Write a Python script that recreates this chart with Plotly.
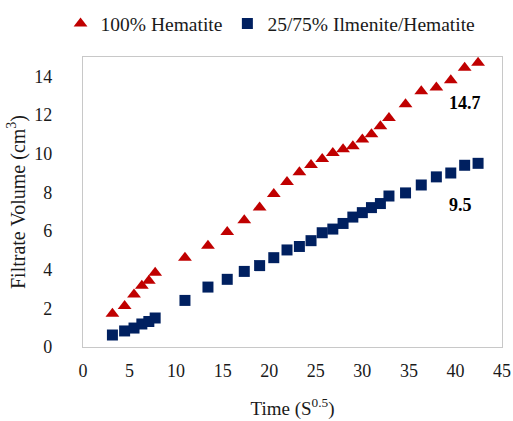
import plotly.graph_objects as go

# Time (s^0.5) values
time_sqrt = [3.16, 4.47, 5.48, 6.32, 7.07, 7.75, 10.95, 13.42, 15.49, 17.32,
             18.97, 20.49, 21.91, 23.24, 24.49, 25.69, 26.83, 27.93, 28.98, 30.0,
             30.98, 31.94, 32.86, 34.64, 36.33, 37.95, 39.5, 40.99, 42.43]

hematite = [1.72, 2.12, 2.72, 3.17, 3.43, 3.84, 4.62, 5.24, 5.95, 6.55,
            7.22, 7.92, 8.53, 9.04, 9.42, 9.73, 10.03, 10.23, 10.39, 10.73,
            11.01, 11.42, 11.84, 12.56, 13.23, 13.42, 13.8, 14.44, 14.7]

ilmenite_hematite = [0.62, 0.83, 0.98, 1.19, 1.32, 1.5, 2.41, 3.1, 3.5, 3.91,
                     4.21, 4.62, 5.02, 5.2, 5.5, 5.91, 6.1, 6.39, 6.72, 6.95,
                     7.21, 7.42, 7.81, 7.97, 8.38, 8.8, 9.0, 9.4, 9.5]

series_names = ["100% Hematite", "25/75% Ilmenite/Hematite"]
end_labels = ["14.7", "9.5"]

FONT = "Liberation Serif"
RED = "#C00000"
NAVY = "#002060"
TXT = "#1a1a1a"

fig = go.Figure()
fig.add_trace(go.Scatter(
    x=time_sqrt, y=hematite, mode="markers", name=series_names[0],
    marker=dict(symbol="triangle-up", size=12, color=RED, line=dict(width=0)),
))
fig.add_trace(go.Scatter(
    x=time_sqrt, y=ilmenite_hematite, mode="markers", name=series_names[1],
    marker=dict(symbol="square", size=11, color=NAVY, line=dict(width=0)),
))

fig.add_annotation(x=time_sqrt[-1], y=hematite[-1], text=f"<b>{end_labels[0]}</b>",
                   showarrow=False, xshift=-13, yshift=-40,
                   font=dict(family=FONT, size=18, color="#000000"))
fig.add_annotation(x=time_sqrt[-1], y=ilmenite_hematite[-1], text=f"<b>{end_labels[1]}</b>",
                   showarrow=False, xshift=-18, yshift=-42,
                   font=dict(family=FONT, size=18, color="#000000"))

fig.update_layout(
    width=513, height=421,
    margin=dict(l=83, r=11, t=57, b=74, autoexpand=False),
    paper_bgcolor="white", plot_bgcolor="white",
    font=dict(family=FONT, color=TXT, size=18),
    showlegend=True,
    legend=dict(
        orientation="h", xref="container", yref="container",
        x=0.118, y=0.99, xanchor="left", yanchor="top",
        font=dict(family=FONT, size=19.5, color=TXT),
        bgcolor="rgba(0,0,0,0)",
    ),
)

fig.update_xaxes(
    range=[0, 45], dtick=5, tick0=0,
    showgrid=False, zeroline=False, showline=True, mirror=True,
    linecolor="#C8C8C8", linewidth=1.3, ticks="", automargin=False,
    tickfont=dict(family=FONT, size=18, color=TXT),
    ticklabelstandoff=7,
    title=dict(text="Time (S<sup>0.5</sup>)", standoff=21,
               font=dict(family=FONT, size=19, color=TXT)),
)
fig.update_yaxes(
    range=[0, 15], dtick=2, tick0=0,
    showgrid=False, zeroline=False, showline=True, mirror=True,
    linecolor="#C8C8C8", linewidth=1.3, ticks="", automargin=False,
    tickfont=dict(family=FONT, size=18, color=TXT),
    ticklabelstandoff=26,
    title=dict(text="Filtrate Volume (cm<sup>3</sup>)", standoff=3,
               font=dict(family=FONT, size=20, color=TXT)),
)

fig.write_html(
    "out.html",
    config={"displayModeBar": False},
    post_script="document.body.style.margin='0';document.body.style.overflow='hidden';",
)
